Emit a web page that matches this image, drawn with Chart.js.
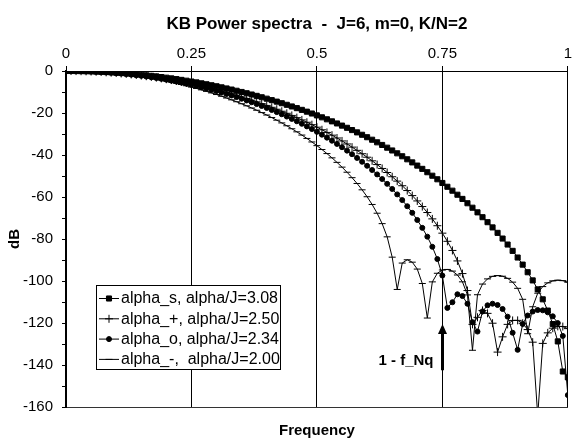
<!DOCTYPE html>
<html><head><meta charset="utf-8">
<script src="https://cdn.jsdelivr.net/npm/chart.js@4/dist/chart.umd.min.js"></script>
<style>html,body{margin:0;padding:0;background:#fff}</style>
</head><body>
<canvas id="c" width="575" height="440"></canvas>
<script>
// ---- data ----
const freq = [0,0.01,0.02,0.03,0.04,0.05,0.06,0.07,0.08,0.09,0.1,0.11,0.12,0.13,0.14,0.15,0.16,0.17,0.18,0.19,0.2,0.21,0.22,0.23,0.24,0.25,0.26,0.27,0.28,0.29,0.3,0.31,0.32,0.33,0.34,0.35,0.36,0.37,0.38,0.39,0.4,0.41,0.42,0.43,0.44,0.45,0.46,0.47,0.48,0.49,0.5,0.51,0.52,0.53,0.54,0.55,0.56,0.57,0.58,0.59,0.6,0.61,0.62,0.63,0.64,0.65,0.66,0.67,0.68,0.69,0.7,0.71,0.72,0.73,0.74,0.75,0.76,0.77,0.78,0.79,0.8,0.81,0.82,0.83,0.84,0.85,0.86,0.87,0.88,0.89,0.9,0.91,0.92,0.93,0.94,0.95,0.96,0.97,0.98,0.99,1];
const alphaS = [0,0,-0.03,-0.07,-0.13,-0.2,-0.28,-0.39,-0.51,-0.64,-0.79,-0.96,-1.14,-1.34,-1.56,-1.79,-2.04,-2.3,-2.58,-2.88,-3.19,-3.52,-3.87,-4.23,-4.62,-5.01,-5.43,-5.87,-6.32,-6.79,-7.27,-7.78,-8.3,-8.84,-9.41,-9.99,-10.58,-11.2,-11.84,-12.5,-13.18,-13.88,-14.59,-15.34,-16.1,-16.88,-17.69,-18.51,-19.36,-20.24,-21.14,-22.06,-23,-23.98,-24.97,-26,-27.05,-28.13,-29.23,-30.37,-31.53,-32.73,-33.96,-35.22,-36.51,-37.84,-39.2,-40.6,-42.04,-43.52,-45.04,-46.6,-48.2,-49.86,-51.56,-53.32,-55.13,-56.99,-58.92,-60.91,-62.97,-65.1,-67.31,-69.61,-71.99,-74.48,-77.07,-79.79,-82.64,-85.65,-88.82,-92.2,-95.82,-99.72,-103.99,-108.72,-114.09,-120.49,-128.77,-143.09,-145.88];
const alphaPlus = [0,-0.01,-0.04,-0.09,-0.15,-0.24,-0.35,-0.47,-0.62,-0.78,-0.96,-1.17,-1.39,-1.63,-1.9,-2.18,-2.48,-2.8,-3.15,-3.51,-3.9,-4.31,-4.73,-5.18,-5.65,-6.15,-6.66,-7.2,-7.76,-8.34,-8.95,-9.58,-10.23,-10.91,-11.62,-12.34,-13.1,-13.88,-14.69,-15.53,-16.39,-17.28,-18.21,-19.16,-20.14,-21.16,-22.21,-23.29,-24.41,-25.56,-26.75,-27.98,-29.25,-30.56,-31.91,-33.31,-34.75,-36.25,-37.79,-39.39,-41.05,-42.77,-44.56,-46.41,-48.34,-50.35,-52.44,-54.63,-56.92,-59.33,-61.87,-64.54,-67.39,-70.42,-73.68,-77.22,-81.1,-85.45,-90.44,-96.46,-104.54,-120.64,-117.3,-114.02,-115.41,-120.1,-133.86,-126.59,-120.65,-118.78,-118.75,-120.13,-123.13,-129.13,-164,-129.71,-124.7,-122.47,-121.6,-121.7,-122.68];
const alphaO = [0,-0.01,-0.04,-0.09,-0.16,-0.26,-0.37,-0.5,-0.66,-0.83,-1.03,-1.24,-1.48,-1.74,-2.02,-2.32,-2.64,-2.99,-3.35,-3.74,-4.15,-4.59,-5.04,-5.52,-6.03,-6.56,-7.11,-7.68,-8.28,-8.91,-9.56,-10.24,-10.94,-11.67,-12.43,-13.22,-14.03,-14.88,-15.76,-16.66,-17.6,-18.57,-19.58,-20.61,-21.69,-22.8,-23.95,-25.14,-26.37,-27.64,-28.96,-30.32,-31.74,-33.2,-34.72,-36.29,-37.92,-39.62,-41.39,-43.23,-45.14,-47.15,-49.24,-51.44,-53.74,-56.17,-58.75,-61.48,-64.4,-67.54,-70.95,-74.7,-78.89,-83.72,-89.55,-97.39,-112.8,-110.11,-106.32,-107.17,-110.84,-119.61,-124.09,-114.49,-111.57,-110.81,-111.43,-113.33,-116.98,-124.64,-132.78,-120.46,-116.43,-114.54,-113.81,-113.96,-114.92,-116.81,-120.04,-126.14,-154.34];
const alphaMinus = [0,-0.01,-0.05,-0.11,-0.19,-0.3,-0.43,-0.58,-0.76,-0.96,-1.19,-1.44,-1.71,-2.01,-2.34,-2.69,-3.06,-3.46,-3.89,-4.35,-4.83,-5.33,-5.87,-6.43,-7.02,-7.65,-8.3,-8.98,-9.69,-10.43,-11.21,-12.02,-12.86,-13.74,-14.65,-15.6,-16.59,-17.62,-18.69,-19.81,-20.96,-22.17,-23.42,-24.72,-26.08,-27.5,-28.97,-30.51,-32.11,-33.79,-35.55,-37.39,-39.32,-41.36,-43.51,-45.78,-48.2,-50.79,-53.56,-56.58,-59.87,-63.55,-67.73,-72.68,-78.97,-88.65,-104.03,-91.46,-89.89,-91.04,-94.33,-101.19,-117.64,-100.41,-96.32,-94.74,-94.5,-95.29,-97.14,-100.4,-106.63,-132.99,-106.54,-101.46,-99,-97.79,-97.42,-97.73,-98.74,-100.54,-103.49,-108.72,-125.11,-112.27,-105.81,-102.66,-100.89,-99.94,-99.61,-99.83,-100.59];
const seriesLabels = ['alpha_s, alpha/J=3.08', 'alpha_+, alpha/J=2.50', 'alpha_o, alpha/J=2.34', 'alpha_-,  alpha/J=2.00'];
const xTickValues = [0, 0.25, 0.5, 0.75, 1];
const yTickValues = [0,-10,-20,-30,-40,-50,-60,-70,-80,-90,-100,-110,-120,-130,-140,-150,-160];
const titleText = 'KB Power spectra  -  J=6, m=0, K/N=2';
const xTitle = 'Frequency';
const yTitle = 'dB';
const noteText = '1 - f_Nq';
const noteFreq = 0.75;

// ---- chart ----
const FONT = "'Liberation Sans', Arial, Helvetica, sans-serif";
Chart.defaults.font.family = FONT;
Chart.defaults.color = '#000';

const styles = [
  {pointStyle: 'rect', pointRadius: 3.6},
  {pointStyle: 'cross', pointRadius: 4},
  {pointStyle: 'circle', pointRadius: 2.5},
  {pointStyle: 'line', pointRadius: 3.5}
];
const seriesData = [alphaS, alphaPlus, alphaO, alphaMinus];

const datasets = seriesData.map((arr, k) => ({
  label: seriesLabels[k],
  data: freq.map((f, i) => ({x: f, y: arr[i]})),
  xAxisID: 'x', yAxisID: 'y',
  borderColor: '#000', backgroundColor: '#000',
  borderWidth: 1, pointBorderWidth: 1,
  pointBackgroundColor: '#000', pointBorderColor: '#000',
  pointStyle: styles[k].pointStyle, pointRadius: styles[k].pointRadius,
  pointHoverRadius: styles[k].pointRadius,
  tension: 0, fill: false
}));

const legendPlugin = {
  id: 'boxLegend',
  afterDatasetsDraw(chart) {
    const ctx = chart.ctx;
    const bx = 96, by = 285, bw = 184, bh = 84;
    ctx.save();
    ctx.fillStyle = '#fff';
    ctx.fillRect(bx, by, bw, bh);
    ctx.strokeStyle = '#000';
    ctx.lineWidth = 1;
    ctx.strokeRect(bx + 0.5, by + 0.5, bw, bh);
    ctx.font = '16px ' + FONT;
    ctx.textBaseline = 'middle';
    ctx.textAlign = 'left';
    seriesLabels.forEach((lab, i) => {
      const y = by + 13.5 + i * 20.3;
      ctx.strokeStyle = '#000';
      ctx.lineWidth = 1;
      ctx.beginPath();
      ctx.moveTo(99, y); ctx.lineTo(119, y);
      ctx.stroke();
      ctx.fillStyle = '#000';
      Chart.helpers.drawPoint(ctx, {pointStyle: styles[i].pointStyle, radius: styles[i].pointRadius, rotation: 0, borderWidth: 1}, 109, y);
      ctx.fillStyle = '#000';
      ctx.fillText(lab, 121, y + 0.5);
    });
    ctx.restore();
  }
};

const notePlugin = {
  id: 'note',
  afterDatasetsDraw(chart) {
    const ctx = chart.ctx;
    const xs = chart.scales.x, ys = chart.scales.y;
    const x = Math.round(xs.getPixelForValue(noteFreq)) + 0.5;
    const tip = ys.getPixelForValue(-120.5);
    const tail = ys.getPixelForValue(-142.5);
    ctx.save();
    ctx.strokeStyle = '#000';
    ctx.fillStyle = '#000';
    ctx.lineWidth = 3;
    ctx.beginPath();
    ctx.moveTo(x, tail); ctx.lineTo(x, tip + 8);
    ctx.stroke();
    ctx.beginPath();
    ctx.moveTo(x, tip); ctx.lineTo(x - 4.5, tip + 10); ctx.lineTo(x + 4.5, tip + 10);
    ctx.closePath(); ctx.fill();
    ctx.font = 'bold 15px ' + FONT;
    ctx.textAlign = 'right';
    ctx.textBaseline = 'middle';
    ctx.fillText(noteText, x - 9, ys.getPixelForValue(-137.8));
    ctx.restore();
  }
};

new Chart(document.getElementById('c'), {
  type: 'line',
  data: {datasets},
  plugins: [legendPlugin, notePlugin],
  options: {
    responsive: false,
    animation: false,
    layout: {padding: {left: 0, right: 3, top: 0, bottom: 0}},
    plugins: {
      legend: {display: false},
      tooltip: {enabled: false},
      title: {
        display: true, text: titleText, fullSize: false,
        font: {size: 17, weight: 'bold', lineHeight: 1.2},
        padding: {top: 14, bottom: 0}, color: '#000'
      }
    },
    scales: {
      x: {
        type: 'linear', position: 'top', min: 0, max: 1,
        afterBuildTicks(s) { s.ticks = xTickValues.map(v => ({value: v})); },
        afterFit(s) { s.height = 71 - 34.4; },
        ticks: {font: {size: 15}, padding: 3, maxRotation: 0, autoSkip: false,
          callback: v => String(v)},
        grid: {display: true, drawOnChartArea: true, drawTicks: true, tickLength: 5, color: '#000', lineWidth: 1},
        border: {display: true, color: '#000', width: 1}
      },
      xb: {
        type: 'linear', position: 'bottom', min: 0, max: 1,
        afterFit(s) { s.height = 33; },
        ticks: {display: false},
        grid: {display: false},
        border: {display: true, color: '#333', width: 1},
        title: {display: true, text: xTitle, font: {size: 15, weight: 'bold', lineHeight: 1.2}, padding: {top: 2, bottom: 0}, color: '#000'}
      },
      y: {
        type: 'linear', position: 'left', min: -160, max: 0,
        afterBuildTicks(s) { s.ticks = yTickValues.map(v => ({value: v})); },
        afterFit(s) { s.width = 66; },
        ticks: {font: {size: 15}, padding: 9, autoSkip: false,
          callback: v => (v % 20 === 0 ? String(v) : '')},
        grid: {display: true, drawOnChartArea: false, drawTicks: true, tickLength: 4, color: '#000', lineWidth: 1},
        border: {display: true, color: '#000', width: 2},
        title: {display: true, text: yTitle, font: {size: 15, weight: 'bold', lineHeight: 1.2}, padding: {top: 6, bottom: 0}, color: '#000'}
      }
    }
  }
});
</script>
</body></html>
